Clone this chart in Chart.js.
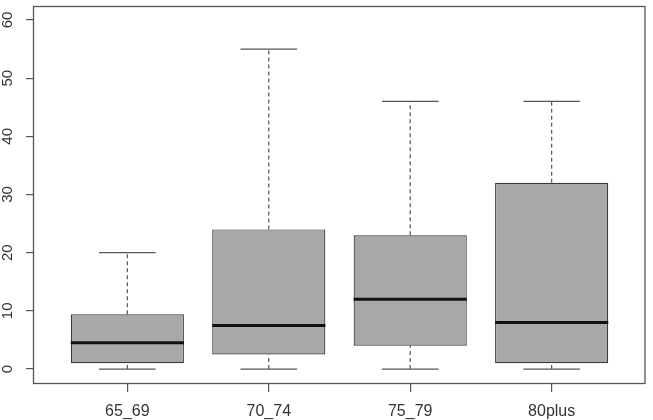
<!DOCTYPE html>
<html>
<head>
<meta charset="utf-8">
<title>Boxplot by age group</title>
<script src="https://cdn.jsdelivr.net/npm/chart.js@4.4.1/dist/chart.umd.min.js"></script>
<style>
  html, body { margin: 0; padding: 0; background: #fff; }
  #wrap { width: 653px; height: 420px; }
</style>
</head>
<body>
<div id="wrap"><canvas id="chart"></canvas></div>
<script>
const categories = ['65_69', '70_74', '75_79', '80plus'];
const whiskerLow = [0, 0, 0, 0];
const quartile1 = [1, 2.5, 4, 1];
const medians = [4.5, 7.5, 12, 8];
const quartile3 = [9.4, 24, 23, 32];
const whiskerHigh = [20, 55, 46, 46];
const yTicks = [0, 10, 20, 30, 40, 50, 60];

const FONT = 'Liberation Sans, Arial, sans-serif';
const AXIS_COLOR = '#555';

// line segments built from the summary stats, broken by null points
function segments(build) {
  const pts = [];
  categories.forEach((c, i) => {
    build(i + 1, i).forEach(seg => {
      pts.push(seg[0], seg[1], { x: i + 1, y: null });
    });
  });
  return pts;
}

const whiskerPts = segments((x, i) => [
  [{ x, y: quartile3[i] }, { x, y: whiskerHigh[i] }],
  [{ x, y: whiskerLow[i] }, { x, y: quartile1[i] }],
]);
const capPts = segments((x, i) => [
  [{ x: x - 0.2, y: whiskerHigh[i] }, { x: x + 0.2, y: whiskerHigh[i] }],
  [{ x: x - 0.2, y: whiskerLow[i] }, { x: x + 0.2, y: whiskerLow[i] }],
]);
const medianPts = segments((x, i) => [
  [{ x: x - 0.4, y: medians[i] }, { x: x + 0.4, y: medians[i] }],
]);

const framePlugin = {
  id: 'frame',
  afterDraw(chart) {
    const { ctx, chartArea: a } = chart;
    ctx.save();
    ctx.strokeStyle = AXIS_COLOR;
    ctx.lineWidth = 1.3;
    ctx.strokeRect(a.left - 0.5, a.top + 0.5, a.right - a.left + 0.5, a.bottom - a.top);
    ctx.restore();
  }
};

const lineBase = {
  type: 'line',
  pointRadius: 0,
  pointHoverRadius: 0,
  tension: 0,
  spanGaps: false,
  fill: false,
};

new Chart(document.getElementById('chart'), {
  type: 'bar',
  data: {
    datasets: [
      {
        ...lineBase,
        data: medianPts,
        borderColor: '#111',
        borderWidth: 3,
        order: 0,
      },
      {
        type: 'bar',
        data: categories.map((c, i) => ({ x: i + 1, y: [quartile1[i], quartile3[i]] })),
        backgroundColor: '#a8a8a8',
        borderColor: '#3a3a3a',
        borderWidth: 1.2,
        borderSkipped: false,
        barPercentage: 0.8,
        categoryPercentage: 1,
        order: 1,
      },
      {
        ...lineBase,
        data: whiskerPts,
        borderColor: '#555',
        borderWidth: 1.2,
        borderDash: [4, 3],
        order: 2,
      },
      {
        ...lineBase,
        data: capPts,
        borderColor: '#555',
        borderWidth: 1.2,
        order: 2,
      },
    ],
  },
  options: {
    responsive: true,
    maintainAspectRatio: false,
    animation: false,
    events: [],
    layout: { padding: { left: 0, right: 8, top: 6, bottom: 0 } },
    plugins: {
      legend: { display: false },
      tooltip: { enabled: false },
    },
    scales: {
      x: {
        type: 'linear',
        min: 0.34,
        max: 4.66,
        offset: false,
        afterBuildTicks: axis => {
          axis.ticks = categories.map((c, i) => ({ value: i + 1 }));
        },
        afterFit: axis => {
          axis.height = 37;
          axis.paddingLeft = 0;
          axis.paddingRight = 0;
        },
        border: { display: false },
        grid: {
          offset: false,
          drawOnChartArea: false,
          drawTicks: true,
          tickLength: 9,
          tickColor: AXIS_COLOR,
          lineWidth: 1.2,
        },
        ticks: {
          autoSkip: false,
          maxRotation: 0,
          padding: 10,
          color: '#333',
          font: { family: FONT, size: 16 },
          callback: value => categories[value - 1],
        },
      },
      y: {
        type: 'linear',
        min: -2.4,
        max: 62.4,
        afterBuildTicks: axis => {
          axis.ticks = yTicks.map(v => ({ value: v }));
        },
        afterFit: axis => {
          axis.width = 34;
          axis.paddingTop = 0;
          axis.paddingBottom = 0;
        },
        border: { display: false },
        grid: {
          drawOnChartArea: false,
          drawTicks: true,
          tickLength: 8,
          tickColor: AXIS_COLOR,
          lineWidth: 1.2,
        },
        ticks: {
          minRotation: 90,
          maxRotation: 90,
          crossAlign: 'center',
          padding: 10,
          color: '#333',
          font: { family: FONT, size: 15 },
        },
      },
    },
  },
  plugins: [framePlugin],
});
</script>
</body>
</html>
